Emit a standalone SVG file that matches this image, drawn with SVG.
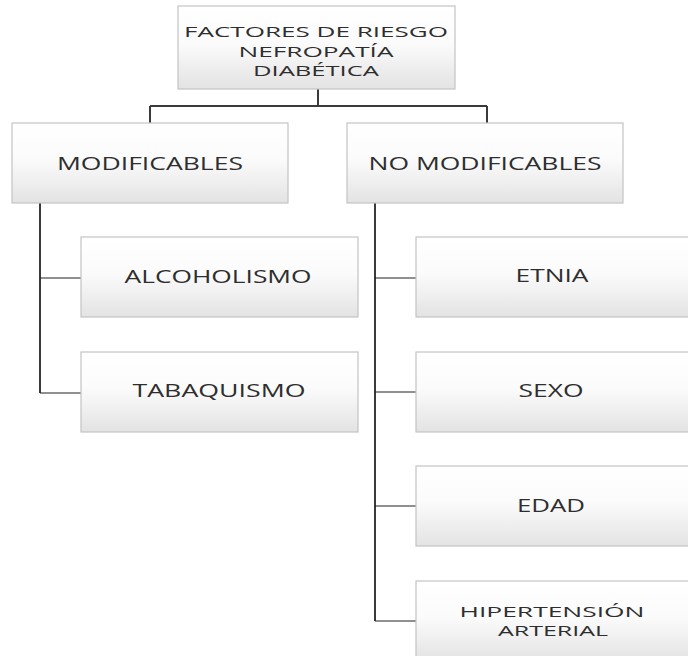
<svg xmlns="http://www.w3.org/2000/svg" width="688" height="656" viewBox="0 0 688 656">
<defs>
<linearGradient id="g" x1="0" y1="0" x2="0" y2="1">
<stop offset="0" stop-color="#ffffff"/>
<stop offset="0.45" stop-color="#fbfbfb"/>
<stop offset="1" stop-color="#e3e3e3"/>
</linearGradient>
</defs>
<style>
.box{fill:url(#g);stroke:#c4c4c4;stroke-width:1.2}
.t{font-family:"Open Sans","Liberation Sans",sans-serif;font-size:18px;fill:#2e2e2e;text-anchor:middle}
.s{font-size:15px}
.trunk{stroke:#3a3a3a;stroke-width:2;fill:none}
.br{stroke:#222;stroke-width:1.2;fill:none}
</style>
<rect width="688" height="656" fill="#ffffff"/>
<g id="connectors">
<path class="trunk" d="M318 89V106M150 106H487M150 106V123M487 106V123"/>
<path class="trunk" d="M40 203V393M375 203V621"/>
<path class="br" d="M40 278H81M40 393H81M375 278H416M375 392H416M375 506H416M375 621H416"/>
</g>
<g id="root">
<rect class="box" x="178" y="6" width="277" height="83"/>
<text class="t s" x="316" y="37" textLength="264" lengthAdjust="spacingAndGlyphs">FACTORES DE RIESGO</text>
<text class="t s" x="316" y="57" textLength="155" lengthAdjust="spacingAndGlyphs">NEFROPATÍA</text>
<text class="t s" x="316" y="76" textLength="126" lengthAdjust="spacingAndGlyphs">DIABÉTICA</text>
</g>
<g id="modificables">
<rect class="box" x="12" y="123" width="276" height="80"/>
<text class="t" x="150" y="170" textLength="186" lengthAdjust="spacingAndGlyphs">MODIFICABLES</text>
</g>
<g id="no-modificables">
<rect class="box" x="347" y="123" width="276" height="80"/>
<text class="t" x="485" y="170" textLength="233" lengthAdjust="spacingAndGlyphs">NO MODIFICABLES</text>
</g>
<g id="alcoholismo">
<rect class="box" x="81" y="237" width="277" height="80"/>
<text class="t" x="218" y="283" textLength="187" lengthAdjust="spacingAndGlyphs">ALCOHOLISMO</text>
</g>
<g id="tabaquismo">
<rect class="box" x="81" y="352" width="277" height="80"/>
<text class="t" x="219" y="397" textLength="173" lengthAdjust="spacingAndGlyphs">TABAQUISMO</text>
</g>
<g id="etnia">
<rect class="box" x="416" y="237" width="277" height="80"/>
<text class="t" x="552" y="282" textLength="73" lengthAdjust="spacingAndGlyphs">ETNIA</text>
</g>
<g id="sexo">
<rect class="box" x="416" y="352" width="277" height="80"/>
<text class="t" x="551" y="397" textLength="65" lengthAdjust="spacingAndGlyphs">SEXO</text>
</g>
<g id="edad">
<rect class="box" x="416" y="466" width="277" height="80"/>
<text class="t" x="551" y="512" textLength="68" lengthAdjust="spacingAndGlyphs">EDAD</text>
</g>
<g id="hipertension">
<rect class="box" x="416" y="581" width="277" height="80"/>
<text class="t s" x="552" y="617" textLength="185" lengthAdjust="spacingAndGlyphs">HIPERTENSIÓN</text>
<text class="t s" x="553" y="636" textLength="110" lengthAdjust="spacingAndGlyphs">ARTERIAL</text>
</g>
</svg>
